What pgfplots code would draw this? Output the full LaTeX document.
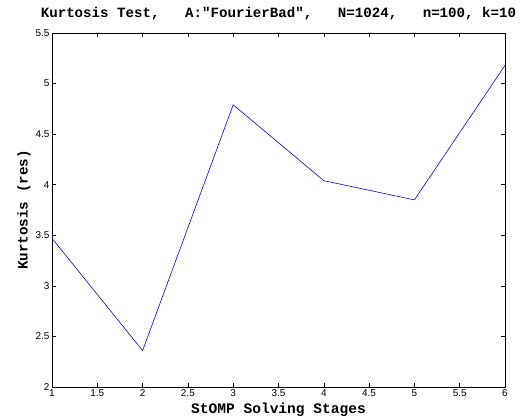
\documentclass[border=0pt]{standalone}
\usepackage{fontspec}
\setmainfont{Liberation Sans}
\newfontfamily\monob{Liberation Mono}
\usepackage{pgfplots}
\pgfplotsset{compat=1.18}
\begin{document}
\begin{tikzpicture}
\path[use as bounding box] (0,0) rectangle (523bp,420bp);
\begin{axis}[
  at={(52bp,33bp)}, anchor=south west,
  scale only axis, width=453bp, height=354bp,
  xmin=1, xmax=6, ymin=2, ymax=5.5,
  xtick={1,1.5,...,6}, ytick={2,2.5,...,5.5},
  tick align=inside, major tick length=4bp,
  axis line style={line width=0.8pt},
  every tick/.style={black, line width=0.5pt},
  /pgf/number format/assume math mode=true,
  /pgf/number format/fixed,
  tick label style={font=\fontsize{10}{12}\selectfont},
  xticklabel style={yshift=1bp},
  yticklabel style={xshift=1bp},
  title={\monob\bfseries Kurtosis Test,\ \ \ A:"FourierBad",\ \ \ N=1024,\ \ \ n=100, k=10},
  title style={font=\fontsize{14.2}{16}\selectfont, at={(axis description cs:0.5,1)}, anchor=base, yshift=10bp},
  xlabel={\monob\bfseries StOMP Solving Stages},
  xlabel style={font=\fontsize{14.6}{16}\selectfont, at={(axis description cs:0.5,0)}, anchor=base, yshift=-26bp},
  ylabel={\monob\bfseries Kurtosis (res)},
  ylabel style={font=\fontsize{14.3}{16}\selectfont, at={(axis description cs:-0.054,0.5)}, anchor=base},
]
\addplot[color={rgb,1:red,0;green,0;blue,1}, line width=0.6pt, mark=none] coordinates {
  (1,3.47) (2,2.36) (3,4.79) (4,4.04) (5,3.85) (6,5.18)
};
\end{axis}
\end{tikzpicture}
\end{document}
